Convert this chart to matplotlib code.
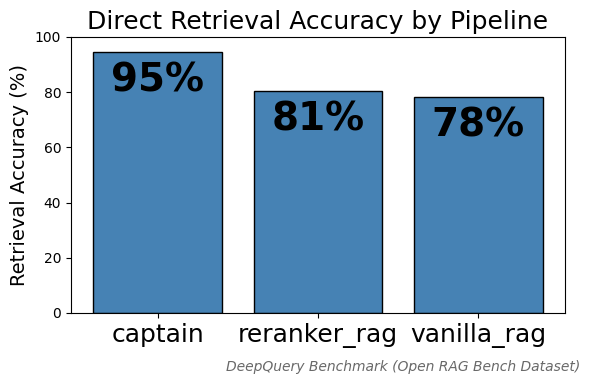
import matplotlib.pyplot as plt

pipelines = ["captain", "reranker_rag", "vanilla_rag"]
accuracy = [94.5, 80.5, 78.4]
labels = ["95%", "81%", "78%"]

fig, ax = plt.subplots(figsize=(5.9, 3.84), dpi=100)
fig.subplots_adjust(left=71 / 590, right=565 / 590, top=1 - 37 / 384, bottom=1 - 313 / 384)

bars = ax.bar(pipelines, accuracy, width=0.8, color="steelblue", edgecolor="black")
for bar, lab in zip(bars, labels):
    ax.text(bar.get_x() + bar.get_width() / 2, bar.get_height() - 3.5, lab,
            ha="center", va="top", fontsize=28, fontweight="bold")

ax.set_ylim(0, 100)
ax.set_title("Direct Retrieval Accuracy by Pipeline", fontsize=18)
ax.set_ylabel("Retrieval Accuracy (%)", fontsize=14)
ax.tick_params(axis="x", labelsize=18)

fig.text(580 / 590, 1 - 367 / 384, "DeepQuery Benchmark (Open RAG Bench Dataset)",
         ha="right", va="center", fontsize=10, style="italic", color="dimgray")

fig.savefig("out.png", dpi=100)
